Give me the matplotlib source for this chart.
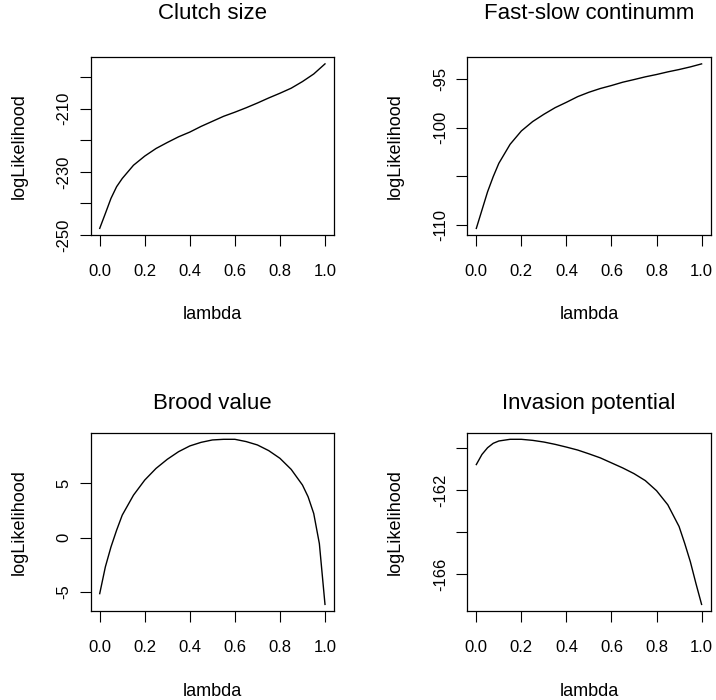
import matplotlib
matplotlib.use('Agg')
import matplotlib.pyplot as plt

plt.rcParams['font.family'] = ['Liberation Sans', 'DejaVu Sans']

# profile likelihood of Pagel's lambda
lam_clutch = [0.0, 0.025, 0.05, 0.075, 0.1, 0.15, 0.2, 0.25, 0.3, 0.35, 0.4, 0.45, 0.5,
              0.55, 0.6, 0.65, 0.7, 0.75, 0.8, 0.85, 0.9, 0.95, 1.0]
ll_clutch = [-247.9, -243.2, -238.4, -234.7, -232.1, -227.9, -225.0, -222.6, -220.7, -218.9,
             -217.4, -215.6, -214.0, -212.4, -211.1, -209.7, -208.2, -206.6, -205.1, -203.5,
             -201.4, -199.0, -195.8]

lam_fastslow = [0.0, 0.025, 0.05, 0.075, 0.1, 0.15, 0.2, 0.25, 0.3, 0.35, 0.4, 0.45, 0.5,
                0.55, 0.6, 0.65, 0.7, 0.75, 0.8, 0.85, 0.9, 0.95, 1.0]
ll_fastslow = [-110.34, -108.46, -106.58, -105.03, -103.66, -101.71, -100.34, -99.38, -98.63,
               -97.95, -97.40, -96.82, -96.37, -95.99, -95.68, -95.34, -95.07, -94.79, -94.55,
               -94.28, -94.04, -93.77, -93.46]

lam_brood = [0.0, 0.025, 0.05, 0.075, 0.1, 0.15, 0.2, 0.25, 0.3, 0.35, 0.4, 0.45, 0.5, 0.55,
             0.6, 0.65, 0.7, 0.75, 0.8, 0.85, 0.9, 0.925, 0.95, 0.975, 1.0]
ll_brood = [-5.15, -2.69, -0.85, 0.69, 2.08, 3.92, 5.31, 6.38, 7.22, 7.92, 8.45, 8.78, 9.00,
            9.06, 9.06, 8.85, 8.54, 8.02, 7.31, 6.29, 4.85, 3.77, 2.23, -0.54, -6.14]

lam_invasion = [0.0, 0.025, 0.05, 0.075, 0.1, 0.15, 0.2, 0.25, 0.3, 0.35, 0.4, 0.45, 0.5, 0.55,
                0.6, 0.65, 0.7, 0.75, 0.8, 0.85, 0.9, 0.925, 0.95, 0.975, 1.0]
ll_invasion = [-160.80, -160.32, -160.00, -159.79, -159.68, -159.60, -159.60, -159.65, -159.73,
               -159.84, -159.97, -160.11, -160.29, -160.48, -160.72, -160.96, -161.23, -161.56,
               -162.04, -162.71, -163.74, -164.54, -165.41, -166.45, -167.44]

titles = ['Clutch size', 'Fast-slow continumm', 'Brood value', 'Invasion potential']
x_ticks = [0.0, 0.2, 0.4, 0.6, 0.8, 1.0]
x_ticklabels = ['0.0', '0.2', '0.4', '0.6', '0.8', '1.0']
y_ticks = [[-250, -240, -230, -220, -210, -200],
           [-110, -105, -100, -95],
           [-5, 0, 5],
           [-166, -164, -162, -160]]
y_ticklabels = [['-250', '', '-230', '', '-210', ''],
                ['-110', '', '-100', '-95'],
                ['-5', '0', '5'],
                ['-166', '', '-162', '']]

W, H = 716, 700


def draw_panel(ax, lam, ll, title, yt, ytl, title_y):
    ax.plot(lam, ll, color='black', lw=1.0)
    ax.margins(x=0.04, y=0.04)
    ax.set_xticks(x_ticks)
    ax.set_xticklabels(x_ticklabels)
    ax.set_yticks(yt)
    ax.set_yticklabels(ytl, rotation=90, va='center')
    ax.tick_params(axis='both', direction='out', length=7.9, width=0.8, labelsize=12,
                   color='black')
    ax.tick_params(axis='x', pad=13)
    ax.tick_params(axis='y', pad=6)
    for s in ax.spines.values():
        s.set_linewidth(0.9)
        s.set_color('black')
    ax.set_xlabel('lambda', fontsize=13, va='center')
    ax.xaxis.set_label_coords(0.5, -0.45)
    ax.set_ylabel('logLikelihood', fontsize=13, va='center')
    ax.yaxis.set_label_coords(-0.295, 0.5)
    ax.set_title(title, fontsize=16, y=title_y, va='center')
    return ax


fig = plt.figure(figsize=(W / 100, H / 100), dpi=100)

box_w = 243.3
lefts = [90.7, 467.3]
rows = [(57.3, 235.0), (432.7, 611.0)]
data = [(lam_clutch, ll_clutch), (lam_fastslow, ll_fastslow),
        (lam_brood, ll_brood), (lam_invasion, ll_invasion)]
title_ys = [1.2, 1.2, 1.118, 1.118]

for i, (lam, ll) in enumerate(data):
    top, bottom = rows[i // 2]
    left = lefts[i % 2]
    ax = fig.add_axes([left / W, 1 - bottom / H, box_w / W, (bottom - top) / H])
    draw_panel(ax, lam, ll, titles[i], y_ticks[i], y_ticklabels[i], title_ys[i])

fig.savefig('out.png', dpi=100)
